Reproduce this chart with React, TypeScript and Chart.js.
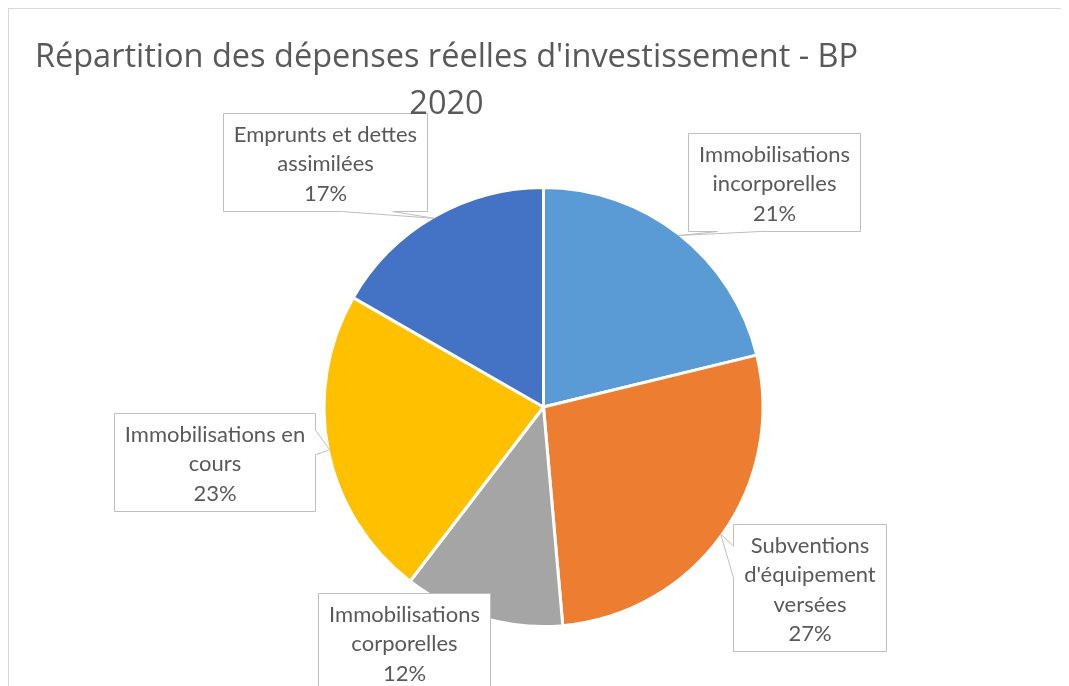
import React, { useEffect, useRef } from "react";
import { Chart, registerables } from "chart.js";

Chart.register(...registerables);

// ---------- data ----------
const titleLines = ["Répartition des dépenses réelles d'investissement - BP", "2020"];
const categories: string[][] = [
  ["Immobilisations", "incorporelles"],
  ["Subventions", "d'équipement", "versées"],
  ["Immobilisations", "corporelles"],
  ["Immobilisations en", "cours"],
  ["Emprunts et dettes", "assimilées"],
];
const shares = [21.2, 27.4, 11.8, 22.9, 16.7];
const sliceColors = ["#5B9BD5", "#ED7D31", "#A5A5A5", "#FFC000", "#4472C4"];

// ---------- layout of the callout boxes (centre offsets in pie-radius units) ----------
const calloutCentres: [number, number][] = [
  [1.057, -1.034],
  [1.22, 0.826],
  [-0.638, 1.08],
  [-1.507, 0.25],
  [-1.002, -1.122],
];

const LABEL_FONT = 'Lato, "Open Sans", sans-serif';
const TITLE_FONT = '"Open Sans", Lato, sans-serif';
const TEXT_COLOR = "#595959";
const LABEL_SIZE = 22;
const LINE_H = 29.5;
const PAD_V = 4.5;
const PAD_H = 10.5;
const TITLE_SIZE = 32.5;

const titlePlugin = {
  id: "excelTitle",
  afterDraw(chart: any) {
    const ctx = chart.ctx as CanvasRenderingContext2D;
    ctx.save();
    ctx.font = `${TITLE_SIZE}px ${TITLE_FONT}`;
    ctx.fillStyle = TEXT_COLOR;
    ctx.textAlign = "center";
    ctx.textBaseline = "alphabetic";
    const cx = 437.5;
    titleLines.forEach((t, i) => ctx.fillText(t, cx, 58 + i * 46.5));
    ctx.restore();
  },
};

const calloutPlugin = {
  id: "callouts",
  afterDatasetsDraw(chart: any) {
    const ctx = chart.ctx as CanvasRenderingContext2D;
    const meta = chart.getDatasetMeta(0);
    const total = shares.reduce((a, b) => a + b, 0);
    ctx.save();
    ctx.font = `${LABEL_SIZE}px ${LABEL_FONT}`;
    meta.data.forEach((arc: any, i: number) => {
      const p = arc.getProps(["x", "y", "startAngle", "endAngle", "outerRadius"], true);
      const r = p.outerRadius - 1.5;
      const mid = (p.startAngle + p.endAngle) / 2;
      const tip = { x: p.x + Math.cos(mid) * r, y: p.y + Math.sin(mid) * r };
      const lines = [...categories[i], Math.round((shares[i] / total) * 100) + "%"];
      const tw = Math.max(...lines.map((l) => ctx.measureText(l).width));
      const w = Math.round(tw + 2 * PAD_H);
      const h = Math.round(lines.length * LINE_H + 2 * PAD_V);
      const cx = p.x + calloutCentres[i][0] * r;
      const cy = p.y + calloutCentres[i][1] * r;
      const L = Math.round(cx - w / 2) + 0.5;
      const T = Math.round(cy - h / 2) + 0.5;
      const R = L + w;
      const B = T + h;

      let side: string | null = null;
      if (tip.y >= T && tip.y <= B) {
        side = tip.x > R ? "right" : tip.x < L ? "left" : null;
      } else {
        side = tip.y > B ? "bottom" : "top";
      }
      const edges: { s: [number, number]; e: [number, number]; name: string; nearS: boolean }[] = [
        { s: [L, T], e: [R, T], name: "top", nearS: tip.x < cx },
        { s: [R, T], e: [R, B], name: "right", nearS: tip.y < cy },
        { s: [R, B], e: [L, B], name: "bottom", nearS: tip.x > cx },
        { s: [L, B], e: [L, T], name: "left", nearS: tip.y > cy },
      ];
      const f1 = 0.17, f2 = 0.42;
      const pts: [number, number][] = [];
      edges.forEach((ed) => {
        pts.push(ed.s);
        if (ed.name === side) {
          const t1 = ed.nearS ? f1 : 1 - f2;
          const t2 = ed.nearS ? f2 : 1 - f1;
          const lerp = (t: number): [number, number] => [
            ed.s[0] + (ed.e[0] - ed.s[0]) * t,
            ed.s[1] + (ed.e[1] - ed.s[1]) * t,
          ];
          pts.push(lerp(t1));
          pts.push([tip.x, tip.y]);
          pts.push(lerp(t2));
        }
      });
      ctx.beginPath();
      pts.forEach((pt, k) => (k === 0 ? ctx.moveTo(pt[0], pt[1]) : ctx.lineTo(pt[0], pt[1])));
      ctx.closePath();
      ctx.fillStyle = "#FFFFFF";
      ctx.fill();
      ctx.strokeStyle = "#BFBFBF";
      ctx.lineWidth = 1;
      ctx.stroke();

      ctx.fillStyle = TEXT_COLOR;
      ctx.textAlign = "center";
      ctx.textBaseline = "alphabetic";
      lines.forEach((l, j) => {
        ctx.fillText(l, (L + R) / 2, T + PAD_V + LINE_H * j + 0.81 * LINE_H);
      });
    });
    ctx.restore();
  },
};

export default function App() {
  const ref = useRef<HTMLCanvasElement | null>(null);
  useEffect(() => {
    document.documentElement.style.overflow = "hidden";
    const canvas = ref.current;
    if (!canvas) return;
    const chart = new Chart(canvas, {
      type: "pie",
      data: {
        labels: categories,
        datasets: [
          {
            data: shares,
            backgroundColor: sliceColors,
            borderColor: "#FFFFFF",
            borderWidth: 3,
            radius: 219.5,
          } as any,
        ],
      },
      options: {
        responsive: false,
        animation: false,
        devicePixelRatio: 1,
        events: [],
        layout: { padding: { left: 10, right: 1, top: 120, bottom: 1 } },
        plugins: {
          legend: { display: false },
          tooltip: { enabled: false },
          title: { display: false },
        },
      },
      plugins: [calloutPlugin, titlePlugin],
    });
    return () => chart.destroy();
  }, []);
  return (
    <div
      style={{
        width: 1060,
        height: 677,
        borderTop: "1px solid #D9D9D9",
        borderLeft: "1px solid #D9D9D9",
        position: "relative",
        overflow: "hidden",
        background: "#FFFFFF",
      }}
    >
      <canvas ref={ref} width={1060} height={677} style={{ display: "block", width: 1060, height: 677 }} />
    </div>
  );
}
